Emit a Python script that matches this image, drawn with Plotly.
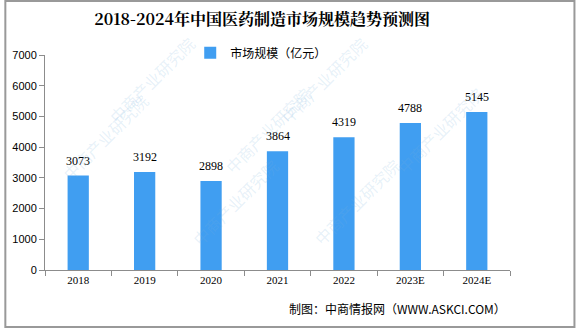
import plotly.graph_objects as go

years = ["2018", "2019", "2020", "2021", "2022", "2023E", "2024E"]
market_size = [3073, 3192, 2898, 3864, 4319, 4788, 5145]
y_ticks = [0, 1000, 2000, 3000, 4000, 5000, 6000, 7000]

BAR = "#409EF1"
AXIS = "#8C8C8C"

fig = go.Figure()
fig.add_trace(go.Bar(
    x=years, y=market_size, name="市场规模（亿元）",
    marker=dict(color=BAR, line=dict(width=0)),
    width=0.32,
))

# value labels above each bar (category index positions)
for i, v in enumerate(market_size):
    fig.add_annotation(
        x=i, y=v, text=str(v), showarrow=False, yshift=15, yanchor="middle",
        font=dict(family="Liberation Serif", size=12, color="#000"),
    )

# faint diagonal watermark text (paper coordinates)
wm_positions = [(0.12, 1.12), (0.60, 1.12), (0.02, 0.62), (0.48, 0.65),
                (0.96, 0.65), (0.30, 0.08), (0.78, 0.08)]
for (px, py) in wm_positions:
    fig.add_annotation(
        x=px, y=py, xref="paper", yref="paper", text="中商产业研究院", showarrow=False,
        textangle=-45, font=dict(family="Noto Sans CJK SC", size=16, color="rgba(120,175,220,0.18)"),
    )

# footer credit
fig.add_annotation(
    x=0.995, y=-0.177, xref="paper", yref="paper", xanchor="right", yanchor="middle",
    text="制图：中商情报网（WWW.ASKCI.COM）", showarrow=False,
    font=dict(family="Noto Sans CJK SC", size=12, color="#000"),
)

fig.update_layout(
    width=576, height=328,
    margin=dict(l=41, r=66, t=55, b=58),
    paper_bgcolor="white", plot_bgcolor="white",
    title=dict(text="<b>2018-2024年中国医药制造市场规模趋势预测图</b>",
               x=0.455, xanchor="center", y=0.94, yanchor="middle",
               font=dict(family="Noto Serif CJK SC, Noto Sans CJK SC", size=16, color="#000")),
    showlegend=True,
    legend=dict(orientation="h", x=0.465, xanchor="center", y=1.01, yanchor="middle",
                font=dict(family="Noto Sans CJK SC", size=12, color="#000"),
                itemwidth=30, bgcolor="rgba(0,0,0,0)"),
    xaxis=dict(
        type="category", categoryorder="array", categoryarray=years,
        range=[-0.5, len(years) - 0.5],
        showline=True, linecolor=AXIS, linewidth=1,
        ticks="outside", tickson="boundaries", ticklen=5, tickcolor=AXIS,
        tickfont=dict(family="Liberation Serif", size=11, color="#000"),
        showgrid=False, zeroline=False,
    ),
    yaxis=dict(
        range=[0, 7000], tickvals=y_ticks, showline=True, linecolor=AXIS, linewidth=1,
        ticks="outside", ticklen=5, tickcolor=AXIS,
        tickfont=dict(family="Liberation Sans", size=11, color="#000"),
        showgrid=False, zeroline=False,
    ),
    shapes=[dict(type="rect", xref="paper", yref="paper", x0=-40/469, x1=1+65/469,
                 y0=-57/215, y1=1+54/215, line=dict(color="#999", width=2))],
)

fig.write_html("out.html")
